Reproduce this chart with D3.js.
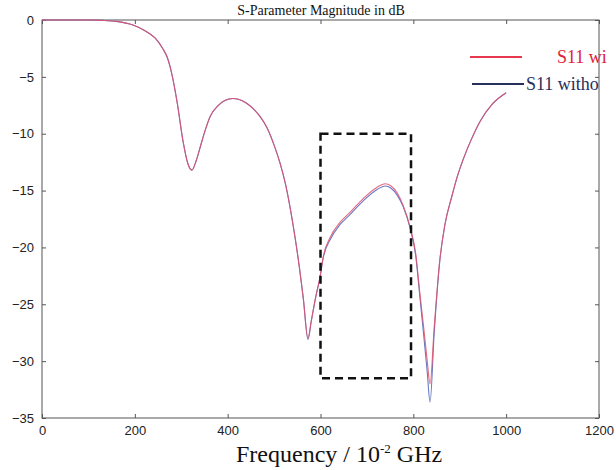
<!DOCTYPE html>
<html><head><meta charset="utf-8">
<script src="https://cdn.jsdelivr.net/npm/d3@7"></script>
<style>html,body{margin:0;padding:0;background:#fff;overflow:hidden}</style>
</head><body>
<svg id="chart" width="616" height="470"></svg>
<script>
const freq = [0, 50, 100, 130, 160, 196, 220, 244, 260, 270, 280, 291, 304, 314, 323, 332, 340, 350, 362, 380, 395, 411, 425, 440, 455, 470, 485, 500, 513, 525, 540, 552, 563, 573, 580, 590, 599, 606, 621, 642, 664, 692, 722, 739, 752, 765, 778, 793, 805, 814, 823, 830, 836, 845, 857, 868, 883, 896, 907, 925, 944, 970, 1000];
const s11With = [0, 0, 0, -0.03, -0.12, -0.44, -0.9, -1.6, -2.5, -3.3, -4.8, -7.2, -10.7, -12.6, -13.2, -12.4, -11.3, -9.9, -8.5, -7.5, -7.05, -6.9, -7.0, -7.3, -7.8, -8.5, -9.5, -11.0, -12.6, -14.5, -17.8, -21, -24.5, -28, -26.5, -24.3, -22.6, -20.8, -19.1, -17.8, -16.9, -15.7, -14.7, -14.4, -14.6, -15.2, -16.3, -18.2, -20.5, -24, -27.3, -30, -32, -27, -21.1, -18.0, -15.5, -13.6, -12.3, -10.5, -8.9, -7.4, -6.4];
const s11Without = [0, 0, 0, -0.03, -0.12, -0.44, -0.9, -1.6, -2.5, -3.3, -4.8, -7.2, -10.7, -12.6, -13.2, -12.4, -11.3, -9.9, -8.5, -7.5, -7.05, -6.9, -7.0, -7.3, -7.8, -8.5, -9.5, -11.0, -12.6, -14.5, -17.8, -21, -24.5, -28.1, -26.5, -24.3, -22.6, -20.9, -19.3, -18.0, -17.1, -15.9, -14.9, -14.6, -14.8, -15.4, -16.4, -18.3, -20.7, -24.3, -28, -31, -33.6, -27.5, -21.2, -18.0, -15.5, -13.6, -12.3, -10.5, -8.9, -7.4, -6.4];
const xTicks = [0, 200, 400, 600, 800, 1000, 1200];
const yTicks = [0, -5, -10, -15, -20, -25, -30, -35];
const seriesNames = ["S11 wi", "S11 witho"];
const boxFreq = [600, 795];
const boxDb = [-10, -31.5];

const svg = d3.select("#chart");
const x = d3.scaleLinear().domain([0, 1200]).range([42, 599]);
const y = d3.scaleLinear().domain([-35, 0]).range([418, 20]);
const axisCol = "#555";

svg.append("rect").attr("x", x(0)).attr("y", y(0)).attr("width", x(1200) - x(0)).attr("height", y(-35) - y(0))
  .attr("fill", "none").attr("stroke", axisCol).attr("stroke-width", 1);

const axBottom = d3.axisBottom(x).tickValues(xTicks).tickFormat(d3.format("d")).tickSizeInner(-4).tickSizeOuter(0).tickPadding(8);
const axTop = d3.axisTop(x).tickValues(xTicks).tickSizeInner(-4).tickSizeOuter(0).tickFormat("");
const axLeft = d3.axisLeft(y).tickValues(yTicks).tickFormat(d3.format("d")).tickSizeInner(-4).tickSizeOuter(0).tickPadding(8);
const axRight = d3.axisRight(y).tickValues(yTicks).tickSizeInner(-4).tickSizeOuter(0).tickFormat("");
function style(sel){
  sel.select(".domain").remove();
  sel.selectAll(".tick line").attr("stroke", axisCol);
  sel.selectAll(".tick text").attr("fill", "#222").style("font-family", "Liberation Sans, Arial, sans-serif").style("font-size", "13px");
}
svg.append("g").attr("transform", `translate(0,${y(-35)})`).call(axBottom).call(style);
svg.append("g").attr("transform", `translate(0,${y(0)})`).call(axTop).call(style);
svg.append("g").attr("transform", `translate(${x(0)},0)`).call(axLeft).call(style);
svg.append("g").attr("transform", `translate(${x(1200)},0)`).call(axRight).call(style);

const line = d3.line().x((d, i) => x(freq[i])).y(d => y(d)).curve(d3.curveMonotoneX);
svg.append("path").datum(s11Without).attr("d", line).attr("fill", "none").attr("stroke", "#6a7ac8").attr("stroke-width", 1.1);
svg.append("path").datum(s11With).attr("d", line).attr("fill", "none").attr("stroke", "#e0506a").attr("stroke-width", 1.1).attr("stroke-opacity", 0.85);

svg.append("rect").attr("x", x(boxFreq[0])).attr("y", y(boxDb[0]))
  .attr("width", x(boxFreq[1]) - x(boxFreq[0])).attr("height", y(boxDb[1]) - y(boxDb[0]))
  .attr("fill", "none").attr("stroke", "#111").attr("stroke-width", 2.5).attr("stroke-dasharray", "8,5");

const serif = "Liberation Serif, Times New Roman, serif";
svg.append("line").attr("x1", 470).attr("x2", 522).attr("y1", 57).attr("y2", 57).attr("stroke", "#e8384f").attr("stroke-width", 2);
svg.append("text").attr("x", 557).attr("y", 63).text(seriesNames[0]).attr("fill", "#e0203a").style("font-family", serif).style("font-size", "18px");
svg.append("line").attr("x1", 472).attr("x2", 524).attr("y1", 84).attr("y2", 84).attr("stroke", "#27305a").attr("stroke-width", 2);
svg.append("text").attr("x", 526).attr("y", 90).text(seriesNames[1]).attr("fill", "#27305a").style("font-family", serif).style("font-size", "18px");

svg.append("text").attr("x", 321).attr("y", 15).attr("text-anchor", "middle").text("S-Parameter Magnitude in dB")
  .attr("fill", "#111").style("font-family", serif).style("font-size", "14px");
const xl = svg.append("text").attr("x", 236).attr("y", 462).attr("text-anchor", "start").attr("fill", "#111")
  .style("font-family", serif).style("font-size", "24px");
xl.append("tspan").text("Frequency / 10");
xl.append("tspan").text("-2").attr("dy", -9).style("font-size", "13px");
xl.append("tspan").text(" GHz").attr("dy", 9);
</script>
</body></html>
